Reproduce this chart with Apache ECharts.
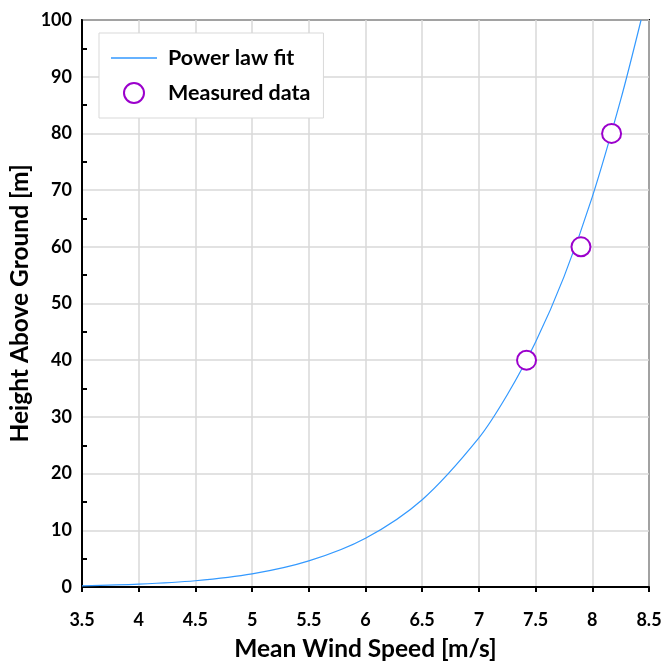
<!DOCTYPE html>
<html>
<head>
<meta charset="utf-8">
<script src="https://cdn.jsdelivr.net/npm/echarts@6/dist/echarts.min.js"></script>
<style>
  html, body { margin: 0; padding: 0; background: #fff; }
  #container { width: 664px; height: 662px; }
</style>
</head>
<body>
<div id="container"></div>
<script>
// tick values
const xTicks = [3.5, 4, 4.5, 5, 5.5, 6, 6.5, 7, 7.5, 8, 8.5]
const yTicks = [0, 10, 20, 30, 40, 50, 60, 70, 80, 90, 100]

// power law fit curve
const fitSpeed = [3.5, 4, 4.5, 5, 5.5, 6, 6.5, 7, 7.25, 7.5, 7.75, 8, 8.25, 8.43]
const fitHeight = [0.2, 0.5, 1.1, 2.3, 4.6, 8.6, 15.4, 26.3, 33.9, 43.2, 54.7, 68.8, 85.9, 100]

// measured points
const measSpeed = [7.42, 7.90, 8.17]
const measHeight = [40, 60, 80]

const font = 'Lato'

let mychart = echarts.init(document.getElementById('container'))

let options = {
  animation: false,
  grid: {
    left: 82,
    right: 15,
    top: 20,
    bottom: 75,
    outerBoundsMode: 'none',
    show: true,
    borderColor: '#000',
    borderWidth: 2
  },
  legend: {
    orient: 'vertical',
    left: 99,
    top: 33,
    padding: [14, 13, 14, 12],
    itemGap: 13,
    itemWidth: 46,
    itemHeight: 20,
    backgroundColor: '#fff',
    borderColor: '#d9d9d9',
    borderWidth: 1,
    textStyle: {
      fontFamily: font,
      fontWeight: 'bold',
      fontSize: 21.5,
      color: '#000',
      padding: [0, 0, 0, 6]
    },
    data: [
      { name: 'Power law fit', icon: 'path://M0,0H46V1.3H0Z' },
      { name: 'Measured data' }
    ]
  },
  xAxis: {
    type: 'value',
    min: xTicks[0],
    max: xTicks[xTicks.length - 1],
    interval: xTicks[1] - xTicks[0],
    name: 'Mean Wind Speed [m/s]',
    nameLocation: 'middle',
    nameGap: 50,
    nameTextStyle: {
      fontFamily: font,
      fontWeight: 'bold',
      fontSize: 24.5,
      color: '#000'
    },
    axisLine: { lineStyle: { color: '#000', width: 2 } },
    axisTick: { show: true, length: 5, lineStyle: { color: '#000', width: 2 } },
    axisLabel: {
      fontFamily: font,
      fontWeight: 'bold',
      fontSize: 18,
      color: '#000',
      margin: 24
    },
    splitLine: { show: true, lineStyle: { color: '#d9d9d9', width: 1.5 } }
  },
  yAxis: {
    type: 'value',
    min: yTicks[0],
    max: yTicks[yTicks.length - 1],
    interval: yTicks[1] - yTicks[0],
    name: 'Height Above Ground [m]',
    nameLocation: 'middle',
    nameGap: 49,
    nameMoveOverlap: false,
    nameTextStyle: {
      fontFamily: font,
      fontWeight: 'bold',
      fontSize: 24.5,
      color: '#000'
    },
    axisLine: { show: true, lineStyle: { color: '#000', width: 2 } },
    axisTick: { show: false, inside: true },
    minorTick: { show: true, splitNumber: 2, length: 5, lineStyle: { color: '#000', width: 2 } },
    axisLabel: {
      fontFamily: font,
      fontWeight: 'bold',
      fontSize: 18,
      color: '#000',
      margin: 10
    },
    splitLine: { show: true, lineStyle: { color: '#d9d9d9', width: 1.5 } }
  },
  series: [
    {
      name: 'Power law fit',
      type: 'line',
      smooth: 0.3,
      symbol: 'none',
      color: '#3399ff',
      lineStyle: { color: '#3399ff', width: 1.2 },
      data: fitSpeed.map((v, i) => [v, fitHeight[i]]),
      z: 2
    },
    {
      name: 'Measured data',
      type: 'scatter',
      symbol: 'circle',
      symbolSize: 19,
      itemStyle: { color: '#fff', borderColor: '#9b00cc', borderWidth: 2, opacity: 1 },
      data: measSpeed.map((v, i) => [v, measHeight[i]]),
      z: 3
    }
  ]
}

mychart.setOption(options)
window.addEventListener('resize', () => { mychart.resize() })
</script>
</body>
</html>
